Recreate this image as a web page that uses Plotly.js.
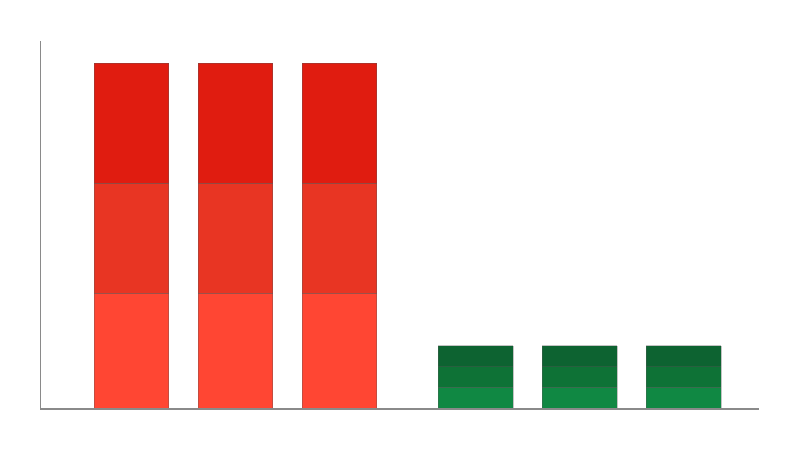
<!DOCTYPE html>
<html>
<head>
<meta charset="utf-8">
<script src="https://cdn.plot.ly/plotly-3.0.1.min.js"></script>
<style>
  html, body { margin: 0; padding: 0; background: #fff; }
  #chart { width: 800px; height: 450px; }
</style>
</head>
<body>
<div id="chart"></div>
<script>
// posições das barras (dois grupos)
const redX = [1, 2, 3];
const greenX = [4.31, 5.31, 6.31];

// segmentos empilhados (de baixo para cima)
const redBottom = [31.3, 31.3, 31.3];
const redMid = [30.0, 30.0, 30.0];
const redTop = [32.7, 32.7, 32.7];

const greenBottom = [5.7, 5.7, 5.7];
const greenMid = [5.6, 5.6, 5.6];
const greenTop = [5.7, 5.7, 5.7];

const outline = { color: 'rgba(90,90,90,0.6)', width: 0.6 };

function seg(x, y, color) {
  return {
    type: 'bar',
    x: x,
    y: y,
    width: 0.72,
    marker: { color: color, line: outline },
    hoverinfo: 'skip'
  };
}

const data = [
  seg(redX, redBottom, '#ff4633'),
  seg(redX, redMid, '#e83523'),
  seg(redX, redTop, '#e01c10'),
  seg(greenX, greenBottom, '#108843'),
  seg(greenX, greenMid, '#0e7236'),
  seg(greenX, greenTop, '#0d6331')
];

const layout = {
  width: 800,
  height: 450,
  paper_bgcolor: '#fff',
  plot_bgcolor: '#fff',
  barmode: 'stack',
  showlegend: false,
  margin: { l: 41, r: 41, t: 41, b: 42 },
  xaxis: {
    range: [0.13, 7.034],
    showgrid: false,
    zeroline: false,
    showticklabels: false,
    ticks: '',
    showline: true,
    linecolor: '#8a8a8a',
    linewidth: 1.5
  },
  yaxis: {
    range: [0, 100],
    showgrid: false,
    zeroline: false,
    showticklabels: false,
    ticks: '',
    showline: true,
    linecolor: '#8a8a8a',
    linewidth: 1.5
  }
};

Plotly.newPlot('chart', data, layout, { displayModeBar: false, staticPlot: true });
</script>
</body>
</html>
